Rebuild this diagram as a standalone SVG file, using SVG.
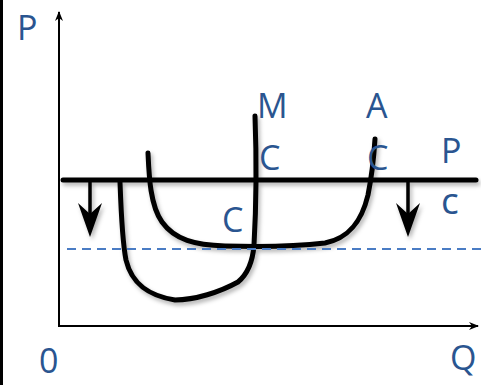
<svg xmlns="http://www.w3.org/2000/svg" width="481" height="385" viewBox="0 0 481 385">
<defs>
<style>
.lbl{font-family:"Open Sans","Liberation Sans",sans-serif;font-size:34px;fill:#2a5590;}
.axis{stroke:#000;stroke-width:2;fill:none;}
.curve{stroke:#000;stroke-width:5;fill:none;stroke-linecap:round;stroke-linejoin:round;}
.arr{stroke:#000;stroke-width:3.5;fill:none;}
.head{fill:#000;stroke:none;}
</style>
<marker id="ax" markerWidth="10" markerHeight="8" refX="9" refY="4" orient="auto" markerUnits="userSpaceOnUse">
<path d="M0,0 L10,4 L0,8 L3,4 Z" fill="#000"/>
</marker>
<filter id="sh" x="-10%" y="-10%" width="130%" height="130%">
<feDropShadow dx="2" dy="3" stdDeviation="2" flood-color="#000" flood-opacity="0.3"/>
</filter>
</defs>
<rect x="0" y="0" width="3" height="385" fill="#000"/>
<g id="axes">
<line class="axis" x1="59" y1="327" x2="59" y2="12" marker-end="url(#ax)"/>
<line class="axis" x1="58" y1="326" x2="478" y2="326" marker-end="url(#ax)"/>
</g>
<g id="connectors" filter="url(#sh)">
<path id="ac" class="curve" d="M148,153 C149,175 150,205 162,222 C175,240 195,245 225,246 C260,247 300,246 325,243 C350,238 362,220 368,195 C372,175 374,155 375,139"/>
<path id="mc" class="curve" d="M120,182 C121,210 122,240 126,260 C132,285 150,296 175,300 C195,300 220,292 238,282 C250,272 253,258 254,245 C256,210 257,170 255,116"/>
<line class="curve" x1="63" y1="180" x2="476" y2="180"/>
<line class="arr" x1="90" y1="182" x2="90" y2="222"/>
<path class="head" d="M90,237 L78,203 L90,214 L102,203 Z"/>
<line class="arr" x1="408" y1="182" x2="408" y2="222"/>
<path class="head" d="M408,237 L396,203 L408,214 L420,203 Z"/>
</g>
<line id="dashed" x1="67" y1="249" x2="481" y2="249" stroke="#4a7cc4" stroke-width="2" stroke-dasharray="9,6"/>
<g id="labels">
<text class="lbl" x="17" y="40">P</text>
<text class="lbl" x="257" y="118">M</text>
<text class="lbl" x="259" y="170">C</text>
<text class="lbl" x="366" y="118">A</text>
<text class="lbl" x="367" y="170">C</text>
<text class="lbl" x="441" y="163">P</text>
<text class="lbl" x="441" y="214" style="font-size:37px">c</text>
<text class="lbl" x="222" y="232">C</text>
<text class="lbl" x="39" y="373">0</text>
<text class="lbl" x="450" y="370">Q</text>
</g>
</svg>
